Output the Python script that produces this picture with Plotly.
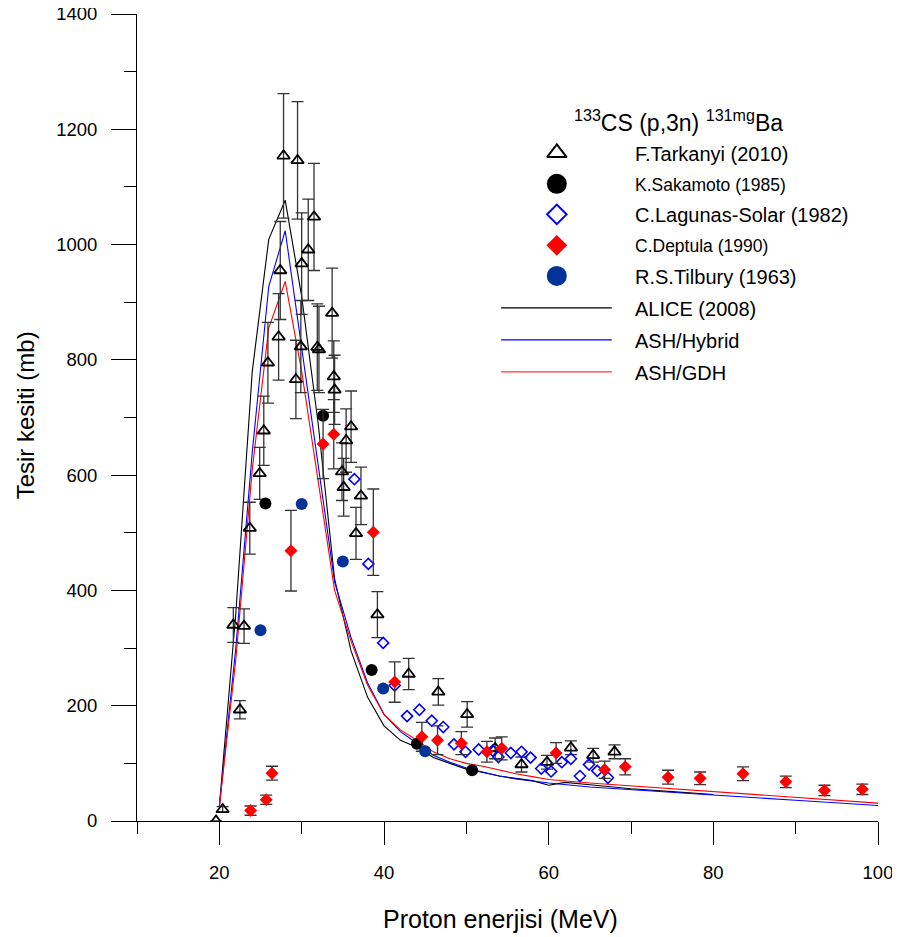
import plotly.graph_objects as go

# ---------------- data ----------------
tark_E = [19.6, 20.4, 21.7, 22.5, 23.0, 23.7, 24.9, 25.4, 25.9, 27.2, 27.4, 27.8, 29.3, 29.5, 29.9, 30.0,
          30.8, 31.5, 31.9, 32.1, 33.7, 33.9, 34.0, 34.9, 35.1, 35.4, 36.0, 36.6, 37.2, 39.2, 43.0, 46.6,
          50.1, 53.5, 56.7, 59.8, 62.7, 65.4, 68.0]
tark_v = [0, 20, 340, 193, 338, 508, 603, 677, 795, 840, 955, 1154, 766, 1146, 823, 967,
          991, 1048, 822, 818, 881, 771, 748, 606, 579, 660, 684, 499, 564, 358, 255, 224,
          185, 126, 98, 102, 127, 114, 120]
tark_err = [0, 5, 30, 16, 30, 45, 45, 60, 70, 75, 85, 108, 68, 102, 80, 88,
            88, 93, 75, 75, 78, 62, 60, 50, 50, 55, 62, 45, 50, 40, 27, 23,
            22, 18, 13, 12, 12, 12, 12]

saka_E = [25.6, 32.6, 38.5, 44.0, 50.7]
saka_v = [551, 703, 262, 134, 88]

lag_E = [36.4, 38.1, 39.9, 41.3, 42.8, 44.3, 45.8, 47.2, 48.5, 49.9, 51.5, 53.2, 53.9, 55.4, 56.7,
         57.8, 59.1, 60.3, 61.6, 62.7, 63.8, 64.9, 65.9, 67.2]
lag_v = [593, 446, 309, 235, 182, 193, 174, 163, 133, 120, 124, 122, 111, 118, 120,
         110, 91, 86, 102, 108, 78, 98, 87, 75]

dep_E = [23.8, 25.7, 26.4, 28.7, 32.6, 33.9, 38.7, 41.3, 44.6, 46.5, 49.4, 52.5, 54.3, 60.9, 66.8,
         69.3, 74.5, 78.4, 83.6, 88.8, 93.5, 98.1]
dep_v = [18, 37, 83, 469, 654, 671, 501, 241, 146, 140, 135, 120, 126, 118, 89,
         94, 76, 74, 82, 68, 53, 55]
dep_err = [8, 8, 12, 70, 60, 60, 75, 35, 25, 25, 20, 18, 20, 18, 15,
           14, 12, 11, 12, 10, 9, 9]

til_E = [25.0, 30.0, 35.0, 39.9, 45.0]
til_v = [331, 550, 450, 230, 121]

alice_E = [20, 22, 24, 26, 28, 30, 32, 34, 36, 38, 40, 42, 44, 46, 48, 50, 52, 54, 56, 58, 60, 62, 65, 70, 75, 80]
alice_v = [25, 360, 780, 1009, 1077, 910, 690, 420, 295, 215, 165, 140, 128, 110, 100, 90, 84, 78, 74, 70, 62, 67, 63, 56, 51, 46]

ash_E = [20, 22, 24, 26, 28, 30, 32, 34, 36, 38, 40, 42, 44, 46, 48, 50, 52, 54, 56, 58, 60, 65, 70, 80, 90, 100]
hyb_v = [25, 300, 640, 927, 1024, 820, 615, 415, 318, 240, 185, 155, 135, 114, 102, 92, 85, 78, 73, 69, 66, 59, 54, 45, 36, 27]
gdh_v = [25, 280, 610, 855, 936, 780, 590, 400, 312, 236, 185, 158, 140, 120, 108, 100, 95, 88, 82, 77, 72, 66, 61, 50, 40, 31]

x_ticks = [20, 40, 60, 80, 100]
y_ticks = [0, 200, 400, 600, 800, 1000, 1200, 1400]

legend_title = "<sup>133</sup>CS (p,3n) <sup>131mg</sup>Ba"
names = ["F.Tarkanyi (2010)", "K.Sakamoto (1985)", "C.Lagunas-Solar (1982)", "C.Deptula (1990)",
         "R.S.Tilbury (1963)", "ALICE (2008)", "ASH/Hybrid", "ASH/GDH"]

# ---------------- styling ----------------
FONT = "Liberation Sans, Arial, sans-serif"
TIL_BLUE = "#033399"
ERR = dict(type="data", color="#333333", thickness=1.3, width=6)

fig = go.Figure()

# model curves
fig.add_trace(go.Scatter(x=alice_E, y=alice_v, mode="lines", line=dict(color="black", width=1.1), showlegend=False))
fig.add_trace(go.Scatter(x=ash_E, y=hyb_v, mode="lines", line=dict(color="#0000ff", width=1.1), showlegend=False))
fig.add_trace(go.Scatter(x=ash_E, y=gdh_v, mode="lines", line=dict(color="#ff0000", width=1.1), showlegend=False))

# experimental data
fig.add_trace(go.Scatter(x=tark_E, y=tark_v, mode="markers",
                         marker=dict(symbol="triangle-up-open", size=11, color="black", line=dict(width=1.8, color="black")),
                         error_y=dict(array=tark_err, **ERR), showlegend=False))
fig.add_trace(go.Scatter(x=saka_E, y=saka_v, mode="markers",
                         marker=dict(symbol="circle", size=12, color="black"), showlegend=False))
fig.add_trace(go.Scatter(x=lag_E, y=lag_v, mode="markers",
                         marker=dict(symbol="diamond-open", size=8.5, color="#0000ff", line=dict(width=1.6, color="#0000ff")),
                         showlegend=False))
fig.add_trace(go.Scatter(x=dep_E, y=dep_v, mode="markers",
                         marker=dict(symbol="diamond", size=10, color="#ff0000"),
                         error_y=dict(array=dep_err, **ERR), showlegend=False))
fig.add_trace(go.Scatter(x=til_E, y=til_v, mode="markers",
                         marker=dict(symbol="circle", size=12, color=TIL_BLUE), showlegend=False))

# ---------------- custom legend (layout geometry in page pixels) ----------------
L, R, T, B = 136.7, 878.0, 14.3, 820.7
def px2x(px):
    return (px - L) / (R - L)
def py2y(py):
    return (B - py) / (B - T)

row_y = [153, 184, 214.5, 245.5, 276, 308, 340, 372]
sym_x = 556.7
text_x = 633
line_x0, line_x1 = 501, 611.7
legend_markers = [
    dict(symbol="triangle-up-open", size=17, color="black", line=dict(width=2, color="black")),
    dict(symbol="circle", size=20, color="black"),
    dict(symbol="diamond-open", size=15, color="#0000ff", line=dict(width=2, color="#0000ff")),
    dict(symbol="diamond", size=16, color="#ff0000"),
    dict(symbol="circle", size=20, color=TIL_BLUE),
]
for i, m in enumerate(legend_markers):
    fig.add_trace(go.Scatter(x=[px2x(sym_x)], y=[py2y(row_y[i])], mode="markers", marker=m,
                             xaxis="x2", yaxis="y2", showlegend=False, hoverinfo="skip"))
line_colors = ["black", "#0000ff", "#ff3333"]
shapes = []
for j, c in enumerate(line_colors):
    yy = py2y(row_y[5 + j])
    shapes.append(dict(type="line", xref="paper", yref="paper", x0=px2x(line_x0), x1=px2x(line_x1),
                       y0=yy, y1=yy, line=dict(color=c, width=1.2)))

font_sizes = [20, 17.5, 20, 17.5, 20, 20, 20, 20]
annotations = []
for i, nm in enumerate(names):
    annotations.append(dict(text=nm, xref="paper", yref="paper", x=px2x(text_x), y=py2y(row_y[i] + 1),
                            xanchor="left", yanchor="middle", showarrow=False,
                            font=dict(family=FONT, size=font_sizes[i], color="black")))
annotations.append(dict(text=legend_title, xref="paper", yref="paper", x=px2x(572), y=py2y(121),
                        xanchor="left", yanchor="middle", showarrow=False,
                        font=dict(family=FONT, size=23, color="black")))
# axis titles
annotations.append(dict(text="Tesir kesiti (mb)", xref="paper", yref="paper", x=px2x(26), y=py2y(415),
                        xanchor="center", yanchor="middle", textangle=-90, showarrow=False,
                        font=dict(family=FONT, size=24, color="black")))
annotations.append(dict(text="Proton enerjisi (MeV)", xref="paper", yref="paper", x=px2x(500), y=py2y(919),
                        xanchor="center", yanchor="middle", showarrow=False,
                        font=dict(family=FONT, size=25, color="black")))

# page has an 8px body margin; margins below place the plot area at the reference pixels
fig.update_layout(
    width=900, height=937,
    margin=dict(l=129, r=30, t=6, b=124, autoexpand=False),
    paper_bgcolor="white", plot_bgcolor="white",
    showlegend=False,
    shapes=shapes, annotations=annotations,
    xaxis=dict(range=[10, 100], tickmode="array", tickvals=x_ticks, ticktext=[str(v) for v in x_ticks],
               automargin=False, ticklabeloverflow="allow",
               showgrid=False, zeroline=False, showline=True, linecolor="black", linewidth=1,
               ticks="outside", ticklen=23, tickwidth=1, tickcolor="black",
               minor=dict(dtick=10, tick0=0, ticks="outside", ticklen=12, tickwidth=1, tickcolor="black", showgrid=False),
               tickfont=dict(family=FONT, size=18.5, color="black"), ticklabelstandoff=12),
    yaxis=dict(range=[0, 1400], tickmode="array", tickvals=y_ticks, ticktext=[str(v) for v in y_ticks],
               automargin=False, ticklabeloverflow="allow",
               showgrid=False, zeroline=False, showline=True, linecolor="black", linewidth=1,
               ticks="outside", ticklen=25, tickwidth=1, tickcolor="black",
               minor=dict(dtick=100, tick0=0, ticks="outside", ticklen=12, tickwidth=1, tickcolor="black", showgrid=False),
               tickfont=dict(family=FONT, size=18.5, color="black"), ticklabelstandoff=10),
    xaxis2=dict(overlaying="x", range=[0, 1], visible=False, anchor="y2", automargin=False),
    yaxis2=dict(overlaying="y", range=[0, 1], visible=False, anchor="x2", automargin=False),
)

fig.write_html("out.html")
